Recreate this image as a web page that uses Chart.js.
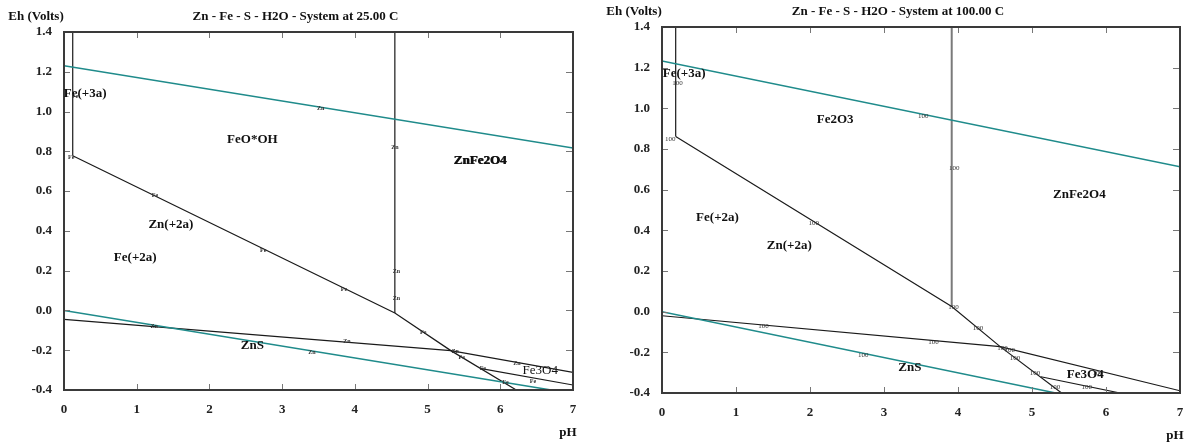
<!DOCTYPE html>
<html>
<head>
<meta charset="utf-8">
<script src="https://cdn.jsdelivr.net/npm/chart.js@4/dist/chart.umd.min.js"></script>
<style>
    body { margin: 0; background: #fff; }
    canvas { position: absolute; top: 0; }
    #chart25 { left: 0; }
    #chart100 { left: 590px; }
</style>
</head>
<body>
<canvas id="chart25" width="590" height="443"></canvas>
<canvas id="chart100" width="597" height="443"></canvas>
<script>
// 25 C の境界線 [pH, Eh]
const water25Top = [[0, 1.23], [7, 0.817]];
const water25Bottom = [[0, 0.0], [6.7, -0.4]];
const fe3Edge25 = [[0.12, 1.4], [0.12, 0.778]];
const feLine25 = [[0.12, 0.778], [4.55, -0.013], [5.32, -0.202], [6.22, -0.4]];
const znEdge25 = [[4.55, 1.4], [4.55, -0.013]];
const sulfide25 = [[0, -0.045], [5.32, -0.202], [7, -0.311]];
const magnetite25 = [[5.72, -0.291], [7, -0.375]];

// 25 C の領域名
const regionNames25 = ['Fe(+3a)', 'FeO*OH', 'ZnFe2O4', 'Zn(+2a)', 'Fe(+2a)', 'ZnS', 'Fe3O4'];
const regionPh25 = [0.29, 2.59, 5.72, 1.47, 0.98, 2.59, 6.55];
const regionEh25 = [1.09, 0.857, 0.751, 0.43, 0.267, -0.177, -0.303];

// 25 C の線上の小さい記号
const markText25 = ['Fe', 'Fe', 'Zn', 'Zn', 'Fe', 'Fe', 'Fe', 'Zn', 'Zn', 'Fe', 'Zn', 'Zn', 'Zn', 'Zn', 'Fe', 'Fe', 'Zn', 'Fe', 'Fe'];
const markPh25 = [0.15, 0.10, 3.53, 4.55, 1.25, 2.74, 3.85, 4.57, 4.57, 4.94, 3.89, 3.41, 1.24, 5.38, 5.47, 5.76, 6.23, 6.45, 6.07];
const markEh25 = [1.075, 0.77, 1.016, 0.817, 0.58, 0.30, 0.108, 0.195, 0.061, -0.11, -0.154, -0.21, -0.082, -0.204, -0.234, -0.294, -0.266, -0.355, -0.363];

// 100 C の境界線 [pH, Eh]
const water100Top = [[0, 1.233], [7, 0.713]];
const water100Bottom = [[0, 0.0], [5.32, -0.4]];
const fe3Edge100 = [[0.185, 1.4], [0.185, 0.861]];
const feLine100 = [[0.185, 0.861], [3.915, 0.025], [4.57, -0.172], [5.40, -0.4]];
const znEdge100 = [[3.915, 1.4], [3.915, 0.025]];
const sulfide100 = [[0, -0.02], [4.57, -0.172], [7, -0.389]];
const magnetite100 = [[5.12, -0.32], [6.19, -0.4]];

// 100 C の領域名
const regionNames100 = ['Fe(+3a)', 'Fe2O3', 'ZnFe2O4', 'Fe(+2a)', 'Zn(+2a)', 'ZnS', 'Fe3O4'];
const regionPh100 = [0.3, 2.34, 5.64, 0.75, 1.72, 3.35, 5.72];
const regionEh100 = [1.169, 0.943, 0.574, 0.462, 0.325, -0.274, -0.308];

// 100 C の線上の小さい記号
const markText100 = ['100', '100', '100', '100', '100', '100', '100', '100', '100', '100', '100', '100', '100', '100', '100', '100', '100'];
const markPh100 = [0.21, 0.11, 3.53, 3.95, 2.05, 1.37, 2.72, 3.67, 3.94, 4.27, 4.60, 4.70, 4.77, 5.04, 5.31, 5.74, 5.89];
const markEh100 = [1.123, 0.848, 0.962, 0.708, 0.435, -0.07, -0.213, -0.15, 0.02, -0.082, -0.18, -0.19, -0.23, -0.303, -0.372, -0.372, -0.30];

// 軸の目盛り
const phMin = 0, phMax = 7, phStep = 1;
const ehMin = -0.4, ehMax = 1.4, ehStep = 0.2;

const TEAL = '#1f8b8b';
const BLACK = '#1a1a1a';
const SERIF = '"Liberation Serif", "DejaVu Serif", serif';

function lineSet(points, color, width) {
    return {
        data: points.map(p => ({ x: p[0], y: p[1] })),
        borderColor: color,
        borderWidth: width,
        showLine: true,
        pointRadius: 0,
        fill: false,
        tension: 0
    };
}

// 枠・内向き目盛り・文字の描画
const diagramPlugin = {
    id: 'diagram',
    afterDatasetsDraw(chart, args, opts) {
        const { ctx, chartArea: a, scales: { x, y } } = chart;
        ctx.save();

        // 内向き目盛り
        ctx.strokeStyle = '#777';
        ctx.lineWidth = 1;
        ctx.beginPath();
        x.ticks.forEach(t => {
            const px = Math.round(x.getPixelForValue(t.value)) + 0.5;
            ctx.moveTo(px, a.bottom); ctx.lineTo(px, a.bottom - 6);
            ctx.moveTo(px, a.top); ctx.lineTo(px, a.top + 6);
        });
        y.ticks.forEach(t => {
            const py = Math.round(y.getPixelForValue(t.value)) + 0.5;
            ctx.moveTo(a.left, py); ctx.lineTo(a.left + 6, py);
            ctx.moveTo(a.right, py); ctx.lineTo(a.right - 7, py);
        });
        ctx.stroke();

        // 枠
        ctx.strokeStyle = '#3a3a3a';
        ctx.lineWidth = 2;
        ctx.strokeRect(a.left, a.top, a.right - a.left, a.bottom - a.top);

        // タイトルと軸名
        ctx.fillStyle = '#111';
        ctx.font = 'bold 13px ' + SERIF;
        ctx.textBaseline = 'middle';
        ctx.textAlign = 'center';
        ctx.fillText(opts.title, (a.left + a.right) / 2 - 23, a.top - 15);
        ctx.fillText('Eh (Volts)', a.left - 28, a.top - 15);
        ctx.fillText('pH', a.right - 5, a.bottom + 43);

        // 領域名
        opts.names.forEach((name, i) => {
            const px = x.getPixelForValue(opts.ph[i]);
            const py = y.getPixelForValue(opts.eh[i]);
            const light = opts.light.includes(name);
            ctx.font = (light ? '' : 'bold ') + '13px ' + SERIF;
            ctx.fillText(name, px, py);
            if (opts.heavy.includes(name)) ctx.fillText(name, px + 0.8, py);
        });

        // 線上の記号
        ctx.fillStyle = '#333';
        ctx.font = opts.markFont + ' ' + SERIF;
        opts.marks.forEach((m, i) => {
            ctx.fillText(m, x.getPixelForValue(opts.markPh[i]), y.getPixelForValue(opts.markEh[i]));
        });

        ctx.restore();
    }
};

function makeOptions(o) {
    const tickFont = { family: SERIF, size: 13, weight: 'bold' };
    return {
        responsive: false,
        animation: false,
        layout: { padding: { top: o.top, right: o.right, left: 0, bottom: 0 } },
        scales: {
            x: {
                type: 'linear',
                min: phMin,
                max: phMax,
                ticks: { stepSize: phStep, padding: 12, color: '#222', font: tickFont, maxRotation: 0, callback: v => String(v) },
                grid: { display: false, drawTicks: false },
                border: { display: false },
                afterFit: s => { s.height = o.xHeight; s.paddingLeft = 0; s.paddingRight = 0; }
            },
            y: {
                type: 'linear',
                min: ehMin,
                max: ehMax,
                ticks: { stepSize: ehStep, padding: 12, color: '#222', font: tickFont, callback: v => (Math.abs(v) < 1e-9 ? 0 : v).toFixed(1) },
                grid: { display: false, drawTicks: false },
                border: { display: false },
                afterFit: s => { s.width = o.yWidth; s.paddingTop = 0; s.paddingBottom = 0; }
            }
        },
        plugins: {
            legend: { display: false },
            tooltip: { enabled: false },
            diagram: o.diagram
        }
    };
}

// 25 C の図
new Chart(document.getElementById('chart25'), {
    type: 'scatter',
    data: {
        datasets: [
            lineSet(water25Top, TEAL, 1.5),
            lineSet(water25Bottom, TEAL, 1.5),
            lineSet(fe3Edge25, BLACK, 1.2),
            lineSet(feLine25, BLACK, 1.2),
            lineSet(znEdge25, BLACK, 1.2),
            lineSet(sulfide25, BLACK, 1.2),
            lineSet(magnetite25, BLACK, 1.2)
        ]
    },
    options: makeOptions({
        top: 32, right: 17, xHeight: 53, yWidth: 64,
        diagram: {
            title: 'Zn - Fe - S - H2O - System at 25.00 C',
            names: regionNames25, ph: regionPh25, eh: regionEh25,
            light: ['Fe3O4'], heavy: ['ZnFe2O4'],
            marks: markText25, markPh: markPh25, markEh: markEh25,
            markFont: 'bold 6px'
        }
    }),
    plugins: [diagramPlugin]
});

// 100 C の図
new Chart(document.getElementById('chart100'), {
    type: 'scatter',
    data: {
        datasets: [
            lineSet(water100Top, TEAL, 1.5),
            lineSet(water100Bottom, TEAL, 1.5),
            lineSet(fe3Edge100, BLACK, 1.2),
            lineSet(feLine100, BLACK, 1.2),
            lineSet(znEdge100, '#7a7a7a', 2),
            lineSet(sulfide100, BLACK, 1.2),
            lineSet(magnetite100, BLACK, 1.2)
        ]
    },
    options: makeOptions({
        top: 27, right: 7, xHeight: 50, yWidth: 72,
        diagram: {
            title: 'Zn - Fe - S - H2O - System at 100.00 C',
            names: regionNames100, ph: regionPh100, eh: regionEh100,
            light: [], heavy: [],
            marks: markText100, markPh: markPh100, markEh: markEh100,
            markFont: '7px'
        }
    }),
    plugins: [diagramPlugin]
});
</script>
</body>
</html>
